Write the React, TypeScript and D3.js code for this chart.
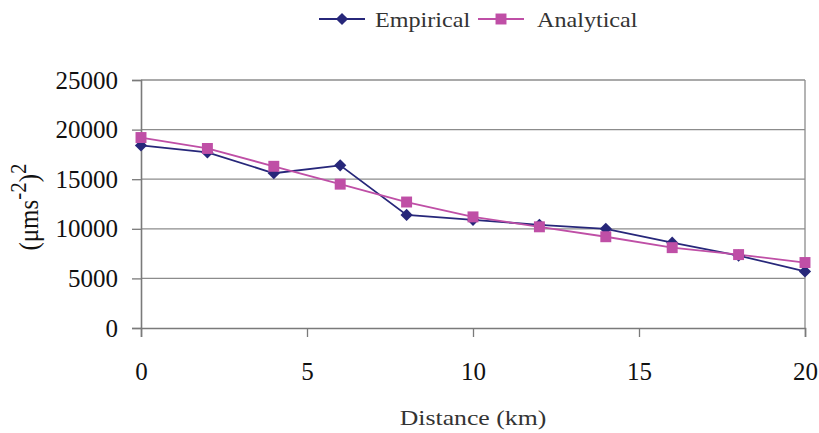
import React, { useRef, useEffect } from 'react';
import * as d3 from 'd3';

const distances = [0, 2, 4, 6, 8, 10, 12, 14, 16, 18, 20];
const empirical = [18400, 17700, 15600, 16400, 11400, 10900, 10400, 10000, 8600, 7300, 5700];
const analytical = [19200, 18100, 16300, 14500, 12700, 11200, 10200, 9200, 8100, 7400, 6600];
const yTicks = [0, 5000, 10000, 15000, 20000, 25000];
const xTicks = [0, 5, 10, 15, 20];

const EMP_COLOR = '#27277a';
const ANA_COLOR = '#bf4fa6';
const FONT = 'Liberation Serif, Times New Roman, Times, serif';

const App = () => {
  const svgRef = useRef<SVGSVGElement | null>(null);

  useEffect(() => {
    const width = 819;
    const height = 433;
    const margin = { top: 80, right: 14, bottom: 105, left: 141 };
    const w = width - margin.left - margin.right;
    const h = height - margin.top - margin.bottom;

    const root = d3.select(svgRef.current);
    root.selectAll('*').remove();
    root.attr('width', width).attr('height', height).style('font-family', FONT);

    const svg = root.append('g').attr('transform', `translate(${margin.left},${margin.top})`);

    const x = d3.scaleLinear().domain([0, 20]).range([0, w]);
    const y = d3.scaleLinear().domain([0, 25000]).range([h, 0]);

    // gridlines
    svg.selectAll('.grid')
      .data(yTicks.filter(t => t > 0))
      .enter()
      .append('line')
      .attr('x1', 0)
      .attr('x2', w)
      .attr('y1', d => y(d))
      .attr('y2', d => y(d))
      .attr('stroke', '#8c8c8c')
      .attr('stroke-width', 1.3);

    // right border
    svg.append('line')
      .attr('x1', w).attr('x2', w).attr('y1', 0).attr('y2', h)
      .attr('stroke', '#8c8c8c').attr('stroke-width', 1.3);

    // axes
    const yAxis = svg.append('g')
      .call(d3.axisLeft(y).tickValues(yTicks).tickSize(9).tickPadding(14).tickFormat(d3.format('d')));
    const xAxis = svg.append('g')
      .attr('transform', `translate(0,${h})`)
      .call(d3.axisBottom(x).tickValues(xTicks).tickSize(9).tickPadding(25).tickFormat(d3.format('d')));

    [yAxis, xAxis].forEach(ax => {
      ax.attr('font-family', null);
      ax.select('.domain').attr('stroke', '#7a7a7a').attr('stroke-width', 1.6);
      ax.selectAll('.tick line').attr('stroke', '#7a7a7a').attr('stroke-width', 1.3);
      ax.selectAll('.tick text')
        .style('font-family', FONT)
        .attr('font-size', 25)
        .attr('fill', '#111');
    });

    // lines
    const line = d3.line<number>()
      .x((_, i) => x(distances[i]))
      .y(d => y(d));

    svg.append('path')
      .datum(empirical)
      .attr('d', line)
      .attr('fill', 'none')
      .attr('stroke', EMP_COLOR)
      .attr('stroke-width', 1.8);

    svg.append('path')
      .datum(analytical)
      .attr('d', line)
      .attr('fill', 'none')
      .attr('stroke', ANA_COLOR)
      .attr('stroke-width', 1.8);

    const diamond = d3.symbol().type(d3.symbolDiamond2).size(95);
    const square = d3.symbol().type(d3.symbolSquare).size(120);

    svg.selectAll('.emp')
      .data(empirical)
      .enter()
      .append('path')
      .attr('d', diamond)
      .attr('transform', (d, i) => `translate(${x(distances[i])},${y(d)})`)
      .attr('fill', EMP_COLOR);

    svg.selectAll('.ana')
      .data(analytical)
      .enter()
      .append('path')
      .attr('d', square)
      .attr('transform', (d, i) => `translate(${x(distances[i])},${y(d)})`)
      .attr('fill', ANA_COLOR);

    // legend
    const legend = root.append('g').attr('transform', 'translate(319,19)');
    const items = [
      { name: 'Empirical', color: EMP_COLOR, sym: diamond, dx: 0, tx: 56 },
      { name: 'Analytical', color: ANA_COLOR, sym: square, dx: 159, tx: 59 },
    ];
    items.forEach(it => {
      const g = legend.append('g').attr('transform', `translate(${it.dx},0)`);
      g.append('line').attr('x1', 0).attr('x2', 46).attr('y1', 0).attr('y2', 0)
        .attr('stroke', it.color).attr('stroke-width', 2);
      g.append('path').attr('d', it.sym).attr('transform', 'translate(23,0)').attr('fill', it.color);
      g.append('text')
        .attr('transform', `translate(${it.tx},8) scale(1.15,1)`)
        .style('font-family', FONT)
        .attr('font-size', 21)
        .attr('fill', '#333')
        .text(it.name);
    });

    // axis titles
    root.append('text')
      .attr('transform', `translate(${margin.left + w / 2},425) scale(1.17,1)`)
      .attr('text-anchor', 'middle')
      .style('font-family', FONT)
      .attr('font-size', 22)
      .attr('fill', '#333')
      .text('Distance (km)');

    const yl = root.append('text')
      .attr('transform', 'translate(38,207) scale(1.1,1) rotate(-90)')
      .attr('text-anchor', 'middle')
      .style('font-family', FONT)
      .attr('font-size', 25)
      .attr('fill', '#111');
    yl.append('tspan').text('(μms');
    yl.append('tspan').attr('dy', -11).attr('font-size', 21).text('-2');
    yl.append('tspan').attr('dy', 11).text(')');
    yl.append('tspan').attr('dy', -11).attr('font-size', 21).text('2');
  }, []);

  return <svg ref={svgRef} style={{ position: 'absolute', left: 0, top: 0 }}></svg>;
};

export default App;
